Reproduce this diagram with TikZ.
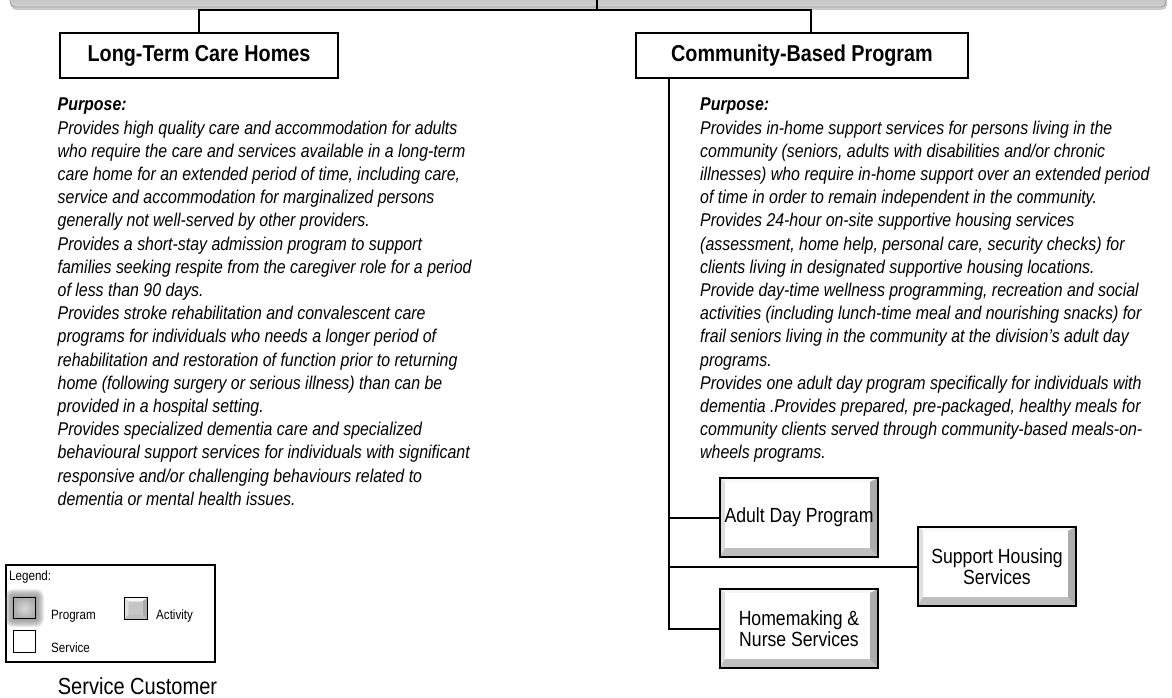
\documentclass[tikz,border=0pt]{standalone}
\usepackage{fontspec}
\setmainfont{Liberation Sans}[FakeStretch=0.86]
\usetikzlibrary{calc,shadows}
\newcommand\bevelfill[5]{%
  \coordinate (bvNW) at (path picture bounding box.north west);
  \coordinate (bvNE) at (path picture bounding box.north east);
  \coordinate (bvSW) at (path picture bounding box.south west);
  \coordinate (bvSE) at (path picture bounding box.south east);
  \fill[gray!55] (bvNW) rectangle (bvSE);
  \fill[gray!6] (bvNW) -- (bvNE) -- ($(bvNE)+(-#3,#2)$) -- ($(bvNW)+(#1,#2)$) -- cycle;
  \fill[gray!25] (bvNW) -- ($(bvNW)+(#1,#2)$) -- ($(bvSW)+(#1,-#4)$) -- (bvSW) -- cycle;
  \fill[gray!65] (bvNE) -- (bvSE) -- ($(bvSE)+(-#3,-#4)$) -- ($(bvNE)+(-#3,#2)$) -- cycle;
  \fill[gray!50] (bvSW) -- (bvSE) -- ($(bvSE)+(-#3,-#4)$) -- ($(bvSW)+(#1,-#4)$) -- cycle;
  \fill[#5] ($(bvNW)+(#1,#2)$) rectangle ($(bvSE)+(-#3,-#4)$);
}
\tikzset{
  svcbox/.style={draw=black, line width=2pt, fill=white, minimum height=45pt,
    inner sep=0pt, font=\fontsize{23}{27}\selectfont\bfseries},
  conn/.style={line width=2pt, draw=black},
  purposetext/.style={anchor=north west, inner sep=0pt, align=left,
    font=\fontsize{18.5}{23.2}\selectfont\itshape},
  actbox/.style={draw=black, line width=2.5pt, minimum width=158pt, minimum height=79pt,
    inner sep=0pt, align=center, font=\fontsize{20.5}{21}\selectfont,
    path picture={\bevelfill{5}{4}{8}{9}{white}}},
  legtext/.style={anchor=west, inner sep=0pt, font=\fontsize{13.5}{15}\selectfont},
  topbar/.style={rounded corners=5pt, top color=gray!70, bottom color=gray!35,
    draw=gray!80, line width=0.8pt, minimum width=1156pt, minimum height=26pt,
    drop shadow={shadow xshift=1pt, shadow yshift=-3pt, opacity=0.4}},
}
\begin{document}
\begin{tikzpicture}[x=1pt,y=-1pt]
\useasboundingbox (0,0) rectangle (1172,698);
\fill[white] (0,0) rectangle (1172,698);

% top bar
\node[topbar] (bar) at (588,-6) {};

% main nodes
\node[svcbox, minimum width=278pt] (LTC) at (199,55.5) {Long-Term Care Homes};
\node[svcbox, minimum width=332pt] (CBP) at (802,55.5) {Community-Based Program};

% connectors at top
\coordinate (hub) at (597,10);
\coordinate (cbpin) at (811,10);
\draw[conn] (hub |- bar.center) -- (hub);
\draw[conn] (LTC.north) |- (cbpin) -- (cbpin |- CBP.north);

% purpose texts
\node[purposetext] (ltctext) at (57.5,98) {\textbf{Purpose:}\\
Provides high quality care and accommodation for adults\\
who require the care and services available in a long-term\\
care home for an extended period of time, including care,\\
service and accommodation for marginalized persons\\
generally not well-served by other providers.\\
Provides a short-stay admission program to support\\
families seeking respite from the caregiver role for a period\\
of less than 90 days.\\
Provides stroke rehabilitation and convalescent care\\
programs for individuals who needs a longer period of\\
rehabilitation and restoration of function prior to returning\\
home (following surgery or serious illness) than can be\\
provided in a hospital setting.\\
Provides specialized dementia care and specialized\\
behavioural support services for individuals with significant\\
responsive and/or challenging behaviours related to\\
dementia or mental health issues.};

\node[purposetext] (cbptext) at (700,98) {\textbf{Purpose:}\\
Provides in-home support services for persons living in the\\
community (seniors, adults with disabilities and/or chronic\\
illnesses) who require in-home support over an extended period\\
of time in order to remain independent in the community.\\
Provides 24-hour on-site supportive housing services\\
(assessment, home help, personal care, security checks) for\\
clients living in designated supportive housing locations.\\
Provide day-time wellness programming, recreation and social\\
activities (including lunch-time meal and nourishing snacks) for\\
frail seniors living in the community at the division’s adult day\\
programs.\\
Provides one adult day program specifically for individuals with\\
dementia .Provides prepared, pre-packaged, healthy meals for\\
community clients served through community-based meals-on-\\
wheels programs.};

% activity boxes
\node[actbox] (ADP) at (799,517.5) {Adult Day Program};
\node[actbox] (SH) at (997,566.5) {Support Housing\\Services};
\node[actbox] (HM) at (799,628.5) {Homemaking \&\\Nurse Services};

\coordinate (trunk) at (668.5,628.5);
\draw[conn] (CBP.south -| trunk) -- (trunk) -- (HM.west);
\draw[conn] (ADP.west -| trunk) -- (ADP.west);
\draw[conn] (SH.west -| trunk) -- (SH.west);

% legend
\node[draw=black, line width=1.5pt, minimum width=209pt, minimum height=97pt, inner sep=0pt] (legend) at (110.5,613.5) {};
\node[legtext] (legtitle) at (9,577) {Legend:};
% program icon with glow
\foreach \g in {8,7,6,5,4,3,2,1}{
  \fill[gray, opacity=0.14, rounded corners=\g pt] (13-\g,597-\g) rectangle (36+\g,619+\g);
}
\node[draw=black, line width=1.6pt, minimum width=22pt, minimum height=21pt, inner sep=0pt,
  inner color=gray!30, outer color=gray!65] (progicon) at (24.5,608) {};
\node[legtext] (progtext) at (51,616) {Program};
\node[draw=black, line width=1.6pt, minimum width=23pt, minimum height=22pt, inner sep=0pt,
  path picture={\bevelfill{4}{4}{5}{5}{gray!45}}] (acticon) at (136,608.5) {};
\node[legtext] (acttext) at (156,616) {Activity};
\node[draw=black, line width=1.6pt, fill=white, minimum width=22pt, minimum height=22pt, inner sep=0pt] (svcicon) at (24.5,641.5) {};
\node[legtext] (svctext) at (51,648) {Service};

\node[inner sep=0pt, font=\fontsize{23.3}{26}\selectfont] (custlabel) at (137.5,686.5) {Service Customer};
\end{tikzpicture}
\end{document}
